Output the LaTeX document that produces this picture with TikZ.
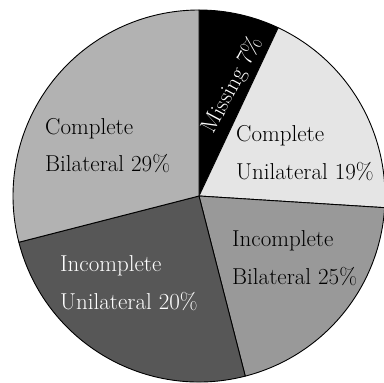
\documentclass[tikz,border=0pt]{standalone}
\usepackage{fontspec}
\begin{document}
\begin{tikzpicture}[x=1pt,y=1pt,
  wedge/.style={draw=black, line width=0.9pt, line join=round},
  lbl/.style={anchor=base west, inner sep=0pt, font=\fontsize{23}{23}\selectfont},
  wlbl/.style={lbl, text=white}]
\definecolor{cmiss}{gray}{0}
\definecolor{ccu}{gray}{0.90}
\definecolor{cib}{gray}{0.60}
\definecolor{ciu}{gray}{0.34}
\definecolor{ccb}{gray}{0.70}
\useasboundingbox (0,0) rectangle (384,383);
\clip (0,0) rectangle (384,383);
\coordinate (c) at (199,187);
\def\R{186}
\fill[white] (0,0) rectangle (384,383);
\filldraw[wedge, fill=cmiss] (c) -- ++(90:\R) arc[start angle=90, end angle=64.8, radius=\R] -- cycle;
\filldraw[wedge, fill=ccu] (c) -- ++(64.8:\R) arc[start angle=64.8, end angle=-3.6, radius=\R] -- cycle;
\filldraw[wedge, fill=cib] (c) -- ++(-3.6:\R) arc[start angle=-3.6, end angle=-75.6, radius=\R] -- cycle;
\filldraw[wedge, fill=ciu] (c) -- ++(-75.6:\R) arc[start angle=-75.6, end angle=-165.6, radius=\R] -- cycle;
\filldraw[wedge, fill=ccb] (c) -- ++(-165.6:\R) arc[start angle=-165.6, end angle=-270, radius=\R] -- cycle;
% labels
\node[lbl] (cb1) at (45,248) {Complete};
\node[lbl] (cb2) at (45,211) {Bilateral 29\%};
\node[lbl] (cu1) at (236,241) {Complete};
\node[lbl] (cu2) at (236,203) {Unilateral 19\%};
\node[lbl] (ib1) at (232,136) {Incomplete};
\node[lbl] (ib2) at (232,98) {Bilateral 25\%};
\node[wlbl] (iu1) at (60,111) {Incomplete};
\node[wlbl] (iu2) at (60,73) {Unilateral 20\%};
\node[inner sep=0pt, text=white, font=\fontsize{23}{23}\selectfont, rotate=62] (miss) at (233,298) {Missing 7\%};
\end{tikzpicture}
\end{document}
